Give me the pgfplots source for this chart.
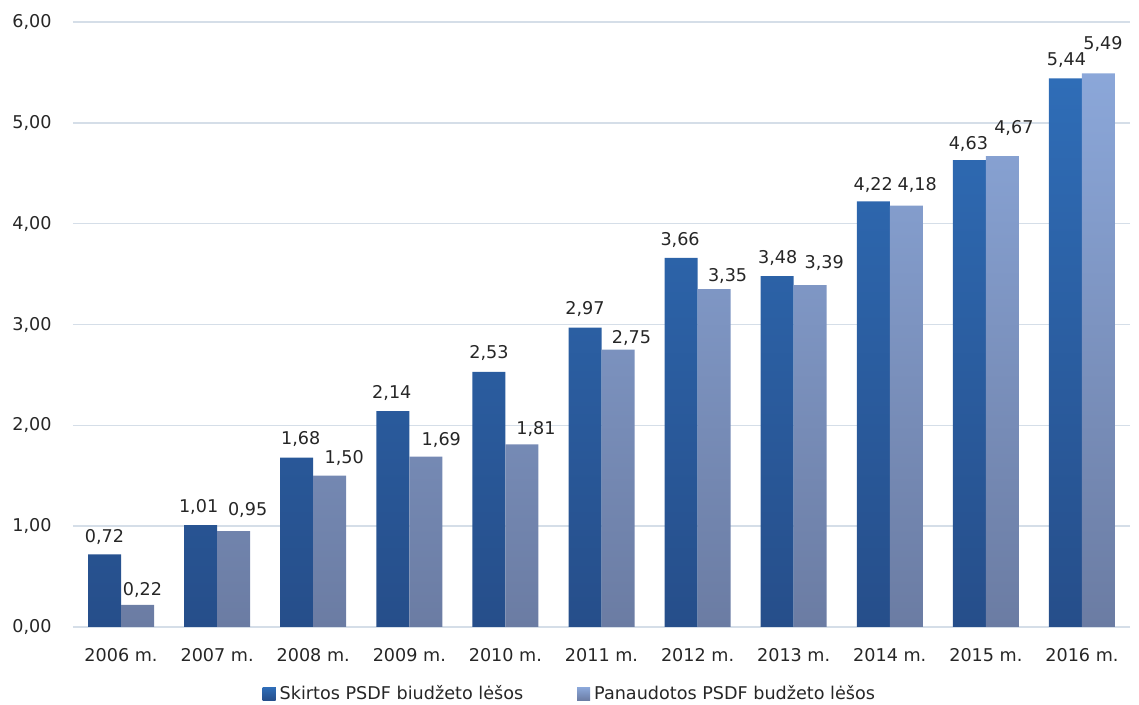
\documentclass[border=0pt]{standalone}
\usepackage{fontspec}
\setmainfont{DejaVu Sans}
\usepackage{pgfplots}
\usepackage{pgfplotstable}
\pgfplotsset{compat=1.18}
\definecolor{darkTop}{HTML}{2F6DB7}
\definecolor{darkBot}{HTML}{264E8A}
\definecolor{lightTop}{HTML}{8BA7D9}
\definecolor{lightBot}{HTML}{6B7CA3}
\definecolor{gridc}{HTML}{D5DEE8}
\definecolor{txt}{HTML}{262626}

\pgfplotstableread{
x y dx dy
0 0.72 0 17
1 1.01 -2 18
2 1.68 4 19
3 2.14 -1 18.5
4 2.53 0 18.5
5 2.97 0 18.5
6 3.66 -1 18
7 3.48 0.5 18.5
8 4.22 0 16.5
9 4.63 -1 16.5
10 5.44 1 18.5
}\skirtos

\pgfplotstableread{
x y dx dy
0 0.22 5 14.5
1 0.95 14 21
2 1.50 14.5 18
3 1.69 15.5 16.5
4 1.81 14 15.5
5 2.75 13.5 11.5
6 3.35 13.5 13.5
7 3.39 14 22.5
8 4.18 11 21
9 4.67 11.5 28.5
10 5.49 4.5 29.5
}\panaudotos

\begin{document}
\begin{tikzpicture}[font=\fontsize{8.8}{10.5}\selectfont, text=txt]
\useasboundingbox (-36.5pt,-39pt) rectangle (533pt,313.5pt);
\begin{axis}[
  at={(0pt,0pt)}, anchor=south west,
  scale only axis, width=528.5pt, height=302.5pt,
  xmin=-0.5, xmax=10.5, ymin=0, ymax=6,
  axis line style={draw=none},
  ytick={0,1,2,3,4,5,6},
  xtick={0,1,2,3,4,5,6,7,8,9,10},
  xticklabels={2006 m.,2007 m.,2008 m.,2009 m.,2010 m.,2011 m.,2012 m.,2013 m.,2014 m.,2015 m.,2016 m.},
  major tick length=0pt,
  ymajorgrids, grid style={draw=gridc, line width=0.7pt},
  yticklabel={\pgfmathprintnumber[fixed,fixed zerofill,precision=2,use comma,assume math mode=true]{\tick}},
  yticklabel style={anchor=east, inner sep=0pt, xshift=-10.5pt},
  xticklabel style={anchor=center, inner sep=0pt, yshift=-14pt},
  ybar, bar width=16.5pt,
  visualization depends on={\thisrow{dx} \as \dx},
  visualization depends on={\thisrow{dy} \as \dy},
  nodes near coords={\pgfmathprintnumber[fixed,fixed zerofill,precision=2,use comma,assume math mode=true]{\pgfplotspointmeta}},
  every node near coord/.append style={anchor=center, inner sep=0pt, xshift={\dx*0.5pt}, yshift={\dy*0.5pt}, font=\fontsize{8.8}{10.5}\selectfont, text=txt},
  legend style={at={(0.471,-0.1107)}, anchor=center, draw=none, fill=none, legend columns=2,
    font=\fontsize{8.8}{10.5}\selectfont, text=txt,
    /tikz/every even column/.append style={column sep=25pt}},
]
\addplot[draw=none, top color=darkTop, bottom color=darkBot, bar shift=-8.25pt,
  legend image code/.code={\fill[darkTop!85!darkBot] (0pt,-3.25pt) rectangle (6.5pt,3.25pt);}]
  table[x=x,y=y] {\skirtos};
\addlegendentry{Skirtos PSDF biudžeto lėšos}
\addplot[draw=none, top color=lightTop, bottom color=lightBot, bar shift=8.25pt,
  legend image code/.code={\fill[lightTop!85!lightBot] (0pt,-3.25pt) rectangle (6.5pt,3.25pt);}]
  table[x=x,y=y] {\panaudotos};
\addlegendentry{Panaudotos PSDF budžeto lėšos}
\end{axis}
\end{tikzpicture}
\end{document}
